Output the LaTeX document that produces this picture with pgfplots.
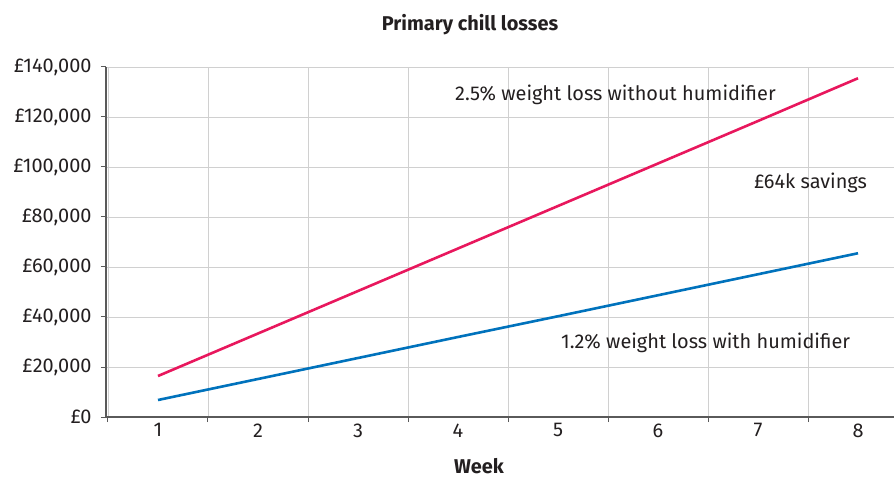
\documentclass[border=0pt]{standalone}
\usepackage{pgfplots}
\pgfplotsset{compat=1.18}
\usepackage{fontspec}
\setmainfont{Fira Sans}
\definecolor{redline}{HTML}{E8175D}
\definecolor{blueline}{HTML}{0072BC}
\definecolor{axgray}{HTML}{5A5A5A}
\definecolor{gridgray}{HTML}{D0D0D0}
\definecolor{txt}{HTML}{231F20}
\begin{document}
\begin{tikzpicture}[font=\fontsize{20}{24}\selectfont, x=1bp, y=1bp]
\begin{axis}[
  at={(0,0)}, anchor=south west,
  scale only axis, width=788bp, height=350bp,
  xmin=0.48, xmax=8.36, ymin=0, ymax=140000,
  axis x line*=bottom, axis y line*=left,
  axis line style={axgray, line width=1.3bp},
  xtick={0.5,1.5,...,7.5}, xticklabels={},
  extra x ticks={1,2,3,4,5,6,7,8},
  extra x tick labels={1,2,3,4,5,6,7,8},
  extra x tick style={major tick length=0pt, grid=none},
  ytick={0,20000,...,140000},
  grid=major, grid style={gridgray, line width=0.9bp},
  tick align=outside, major tick length=5bp,
  tick style={axgray, line width=1bp},
  scaled y ticks=false,
  tick label style={font=\fontsize{20}{24}\selectfont, text=txt},
  /pgf/number format/assume math mode=true,
  /pgf/number format/fixed,
  /pgf/number format/precision=0,
  /pgf/number format/1000 sep={,},
  yticklabel={£\pgfmathprintnumber{\tick}},
  yticklabel style={xshift=-6bp},
  xticklabel style={yshift=-3bp},
  clip=false,
]
\addplot[redline, line width=2.6bp] coordinates {
 (1,16400) (2,33400) (3,50400) (4,67400) (5,84400) (6,101400) (7,118400) (8,135500)};
\addplot[blueline, line width=2.6bp] coordinates {
 (1,6800) (2,15200) (3,23600) (4,32000) (5,40300) (6,48700) (7,57100) (8,65500)};
\node[anchor=west, text=txt, inner sep=0pt] at (axis cs:3.97,128800) {2.5\% weight loss without humidifier};
\node[anchor=west, text=txt, inner sep=0pt] at (axis cs:6.96,93600) {£64k savings};
\node[anchor=west, text=txt, inner sep=0pt] at (axis cs:5.03,29600) {1.2\% weight loss with humidifier};
\node[text=txt, inner sep=0pt, font=\fontsize{20}{24}\selectfont\bfseries] at (axis cs:4.12,156800) {Primary chill losses};
\node[text=txt, inner sep=0pt, font=\fontsize{20}{24}\selectfont\bfseries] at (axis cs:4.21,-19600) {Week};
\end{axis}
\pgfresetboundingbox
\path (-106bp,-62bp) rectangle (788bp,417bp);
\end{tikzpicture}
\end{document}
